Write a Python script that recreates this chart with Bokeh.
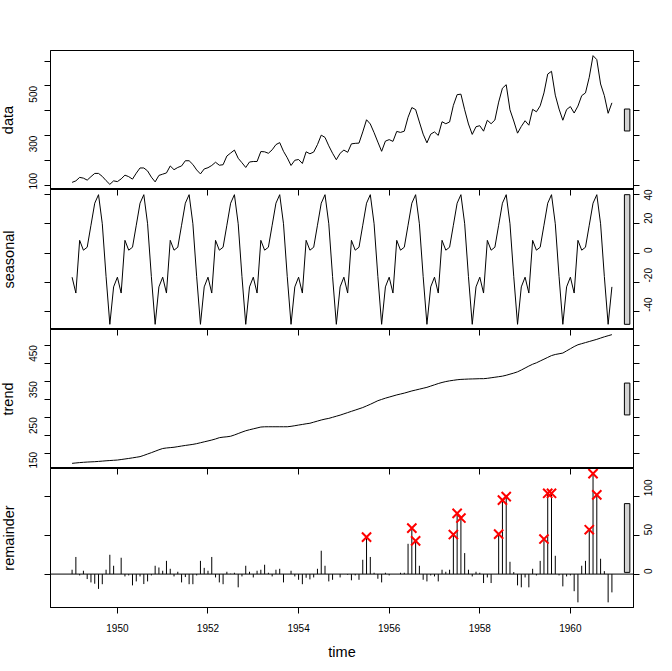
import math
from bokeh.plotting import figure
from bokeh.layouts import column
from bokeh.models import (Range1d, LinearAxis, FixedTicker, CustomJSTickFormatter,
                          Span, ColumnDataSource)
from bokeh.embed import file_html
from bokeh.resources import INLINE

# ---------------- data ----------------
START_YEAR = 1949
N_MONTHS = 144
time = [START_YEAR + i / 12 for i in range(N_MONTHS)]

data = [
    112, 118, 132, 129, 121, 135, 148, 148, 136, 119, 104, 118,
    115, 126, 141, 135, 125, 149, 170, 170, 158, 133, 114, 140,
    145, 150, 178, 163, 172, 178, 199, 199, 184, 162, 146, 166,
    171, 180, 193, 181, 183, 218, 230, 242, 209, 191, 172, 194,
    196, 196, 236, 235, 229, 243, 264, 272, 237, 211, 180, 201,
    204, 188, 235, 227, 234, 264, 302, 293, 259, 229, 203, 229,
    242, 233, 267, 269, 270, 315, 364, 347, 312, 274, 237, 278,
    284, 277, 317, 313, 318, 374, 413, 405, 355, 306, 271, 306,
    315, 301, 356, 348, 355, 422, 465, 467, 404, 347, 305, 336,
    340, 318, 362, 348, 363, 435, 491, 505, 404, 359, 310, 337,
    360, 342, 406, 396, 420, 472, 548, 559, 463, 407, 362, 405,
    417, 391, 419, 461, 472, 535, 622, 606, 508, 461, 390, 432,
]

seasonal = [
    -16.4, -27.2, 8.7, 2.0, 4.0, 19.0, 34.0, 39.8, 20.0, -16.0, -48.5, -23.0,
    -16.4, -27.2, 8.7, 2.0, 4.0, 19.0, 34.0, 39.8, 20.0, -16.0, -48.5, -23.0,
    -16.4, -27.2, 8.7, 2.0, 4.0, 19.0, 34.0, 39.8, 20.0, -16.0, -48.5, -23.0,
    -16.4, -27.2, 8.7, 2.0, 4.0, 19.0, 34.0, 39.8, 20.0, -16.0, -48.5, -23.0,
    -16.4, -27.2, 8.7, 2.0, 4.0, 19.0, 34.0, 39.8, 20.0, -16.0, -48.5, -23.0,
    -16.4, -27.2, 8.7, 2.0, 4.0, 19.0, 34.0, 39.8, 20.0, -16.0, -48.5, -23.0,
    -16.4, -27.2, 8.7, 2.0, 4.0, 19.0, 34.0, 39.8, 20.0, -16.0, -48.5, -23.0,
    -16.4, -27.2, 8.7, 2.0, 4.0, 19.0, 34.0, 39.8, 20.0, -16.0, -48.5, -23.0,
    -16.4, -27.2, 8.7, 2.0, 4.0, 19.0, 34.0, 39.8, 20.0, -16.0, -48.5, -23.0,
    -16.4, -27.2, 8.7, 2.0, 4.0, 19.0, 34.0, 39.8, 20.0, -16.0, -48.5, -23.0,
    -16.4, -27.2, 8.7, 2.0, 4.0, 19.0, 34.0, 39.8, 20.0, -16.0, -48.5, -23.0,
    -16.4, -27.2, 8.7, 2.0, 4.0, 19.0, 34.0, 39.8, 20.0, -16.0, -48.5, -23.0,
]

trend = [
    122.4, 123.5, 124.5, 125.3, 126.0, 126.5, 127.0, 127.8, 128.6, 129.5, 130.2, 130.9,
    131.6, 133.0, 134.5, 136.0, 137.6, 139.3, 141.0, 144.5, 148.3, 152.0, 156.0, 160.0,
    163.5, 165.0, 166.0, 167.0, 168.7, 170.4, 172.0, 173.5, 175.0, 177.0, 179.5, 182.0,
    184.5, 187.0, 190.0, 193.5, 195.0, 196.0, 197.5, 201.0, 205.0, 209.0, 212.7, 215.5,
    218.0, 220.5, 223.0, 223.7, 223.8, 223.8, 223.8, 223.8, 223.8, 223.8, 225.0, 226.7,
    228.5, 230.2, 232.0, 233.5, 236.5, 239.5, 242.5, 245.0, 247.0, 250.0, 253.0, 256.0,
    259.5, 263.0, 266.5, 270.0, 273.5, 277.0, 281.5, 286.0, 291.0, 296.0, 299.5, 303.0,
    306.0, 309.0, 312.0, 314.5, 317.0, 320.0, 323.0, 325.5, 328.0, 330.5, 333.0, 336.5,
    340.0, 343.5, 346.5, 349.0, 351.0, 352.5, 354.0, 355.0, 355.5, 356.0, 356.3, 356.6,
    357.0, 357.0, 358.0, 359.5, 361.0, 362.5, 364.0, 366.5, 369.5, 372.5, 376.0, 381.0,
    386.5, 392.0, 397.0, 401.0, 406.0, 411.0, 416.0, 421.0, 424.0, 426.0, 428.0, 434.0,
    440.0, 446.0, 451.0, 454.0, 457.0, 460.0, 463.0, 466.0, 469.5, 473.0, 476.0, 479.0,
]

remainder = [
    5.6, 22.0, -1.7, 4.3, -6.4, -10.7, -12.4, -19.0, -13.0, 5.6, 24.8, 10.7,
    0.0, 21.0, -3.0, -1.7, -14.5, -9.4, -3.0, -12.8, -9.4, -1.7, 10.7, 8.5,
    4.3, 17.0, 6.8, -3.0, 3.0, -10.7, -3.8, -13.0, -13.0, -1.7, 17.0, 8.0,
    4.3, 22.0, -4.3, -10.7, -13.0, 3.0, 0.5, 1.7, -17.0, -3.0, 10.7, 3.0,
    -4.3, 4.3, 5.6, 12.0, 1.7, -3.0, 5.6, 6.8, -10.7, 0.0, 4.3, -3.0,
    -7.3, -13.0, -4.7, -6.8, -4.3, 6.8, 30.0, 10.7, -9.4, -7.3, 0.0, -4.3,
    0.0, -0.9, -8.0, -1.7, -7.3, 18.4, 47.5, 22.0, 1.7, -6.0, -10.7, 1.7,
    -1.7, 0.0, 0.0, 1.7, 1.7, 38.9, 59.0, 42.7, 10.7, -7.3, -9.4, -1.7,
    -3.0, -9.4, 5.6, 3.0, 5.6, 50.8, 78.0, 72.0, 27.0, 5.6, -3.0, 3.0,
    1.7, -11.5, -4.3, -11.5, 0.0, 51.3, 95.0, 99.5, 15.8, 2.6, -14.5, -17.0,
    -4.3, -17.0, 6.8, -1.7, 17.0, 45.0, 103.8, 103.8, 23.5, -1.7, -15.8, -3.0,
    -1.7, -22.0, -36.3, 10.7, 17.0, 57.0, 129.0, 101.7, 19.7, 3.8, -36.3, -23.5,
]

# months flagged as outliers (index into the series)
outlier_idx = [78, 90, 91, 101, 102, 103, 113, 114, 115, 125, 126, 127, 137, 138, 139]

x_ticks = [1950, 1952, 1954, 1956, 1958, 1960]
data_ticks = [100, 200, 300, 400, 500, 600]
data_labels = [100, 300, 500]
seasonal_ticks = [-40, -20, 0, 20, 40]
trend_ticks = [150, 200, 250, 300, 350, 400, 450]
trend_labels = [150, 250, 350, 450]
remainder_ticks = [0, 50, 100]

# ---------------- layout / style ----------------
FONT = "Liberation Sans"
SHIFT = 6              # layout is pulled left by this many pixels
BL, BR = 50 + SHIFT, 35
FRAME_W = 583
W = BL + FRAME_W + BR
TICK_FS = "10px"
TITLE_FS = "14.5px"
LBL_STANDOFF = 11
TITLE_STANDOFF = 7
LBL_EXTENT = 10

series_list = [data, seasonal, trend, remainder]
min_range = min(max(s) - min(s) for s in series_list)

xlo, xhi = min(time), max(time)
xd = 0.04 * (xhi - xlo)
x_range = Range1d(xlo - xd, xhi + xd)


def ext_range(vals):
    lo, hi = min(vals), max(vals)
    d = 0.04 * (hi - lo)
    return Range1d(lo - d, hi + d)


def fmt(shown):
    return CustomJSTickFormatter(args=dict(shown=shown),
                                 code="return shown.includes(tick) ? String(tick) : '';")


def yaxis(ticks, shown, side, title=None):
    ax = LinearAxis(ticker=FixedTicker(ticks=ticks),
                    major_tick_in=0, major_tick_out=6,
                    minor_tick_in=0, minor_tick_out=0,
                    axis_line_color="black", major_tick_line_color="black",
                    major_label_orientation=math.pi / 2,
                    major_label_text_font=FONT,
                    major_label_text_color="black")
    if shown:
        ax.formatter = fmt(shown)
        ax.major_label_text_font_size = TICK_FS
        ax.major_label_standoff = LBL_STANDOFF if side == "left" else 9
    else:
        ax.formatter = fmt([])
        ax.major_label_text_font_size = "0px"
        ax.major_label_standoff = 0
    if title is not None:
        ax.axis_label = title
        ax.axis_label_text_font = FONT
        ax.axis_label_text_font_size = TITLE_FS
        ax.axis_label_text_font_style = "normal"
        ax.axis_label_text_color = "black"
        ax.axis_label_standoff = (TITLE_STANDOFF if shown
                                  else TITLE_STANDOFF + LBL_STANDOFF + LBL_EXTENT)
    return ax


def panel(title, values, ticks, left_shown, right_shown, frame_h, top, bottom, first):
    p = figure(width=W, height=frame_h + top + bottom, x_range=x_range,
               y_range=ext_range(values),
               output_backend="svg", toolbar_location=None,
               x_axis_location=None, y_axis_location=None,
               min_border_left=BL, min_border_right=BR,
               min_border_top=top, min_border_bottom=bottom,
               outline_line_color="black", outline_line_width=1,
               background_fill_color="white", border_fill_color="white")
    p.grid.visible = False
    p.add_layout(yaxis(ticks, left_shown, "left", title), "left")
    p.add_layout(yaxis(ticks, right_shown, "right"), "right")
    if not first:
        top_ax = LinearAxis(ticker=FixedTicker(ticks=x_ticks),
                            major_tick_in=6, major_tick_out=0,
                            minor_tick_in=0, minor_tick_out=0,
                            axis_line_color="black", major_tick_line_color="black",
                            major_label_text_font_size="0px", major_label_standoff=0,
                            formatter=fmt([]))
        p.add_layout(top_ax, "above")
    # range bar
    dx = (x_range.end - x_range.start) / 64
    mid = (min(values) + max(values)) / 2
    p.quad(left=[x_range.end - dx], right=[x_range.end - 0.4 * dx],
           bottom=[mid - min_range / 2], top=[mid + min_range / 2],
           fill_color="#D3D3D3", line_color="black", line_width=1)
    return p


p1 = panel("data", data, data_ticks, data_labels, None, 139, 50, 0, True)
p1.line(time, data, line_color="black", line_width=1)

p2 = panel("seasonal", seasonal, seasonal_ticks, None, seasonal_ticks, 140, 0, 0, False)
p2.line(time, seasonal, line_color="black", line_width=1)

p3 = panel("trend", trend, trend_ticks, trend_labels, None, 139, 0, 0, False)
p3.line(time, trend, line_color="black", line_width=1)

p4 = panel("remainder", remainder, remainder_ticks, None, remainder_ticks, 139, 0, 60, False)
p4.segment(x0=time, y0=[0] * N_MONTHS, x1=time, y1=remainder,
           line_color="black", line_width=1)
p4.add_layout(Span(location=0, dimension="width", line_color="black", line_width=1))
out_src = ColumnDataSource(dict(
    x=[time[i] for i in outlier_idx],
    y=[remainder[i] for i in outlier_idx],
))
p4.scatter(x="x", y="y", source=out_src, marker="x", size=13,
           line_color="red", line_width=2)

bx = LinearAxis(ticker=FixedTicker(ticks=x_ticks),
                major_tick_in=0, major_tick_out=6,
                minor_tick_in=0, minor_tick_out=0,
                axis_line_color="black", major_tick_line_color="black",
                major_label_text_font=FONT, major_label_text_font_size=TICK_FS,
                major_label_text_color="black", major_label_standoff=10,
                axis_label="time", axis_label_text_font=FONT,
                axis_label_text_font_size=TITLE_FS, axis_label_text_font_style="normal",
                axis_label_text_color="black", axis_label_standoff=9)
p4.add_layout(bx, "below")

layout = column(p1, p2, p3, p4, spacing=0,
                styles={"margin-left": f"-{SHIFT}px"})
open("out.html", "w").write(file_html(layout, INLINE))
